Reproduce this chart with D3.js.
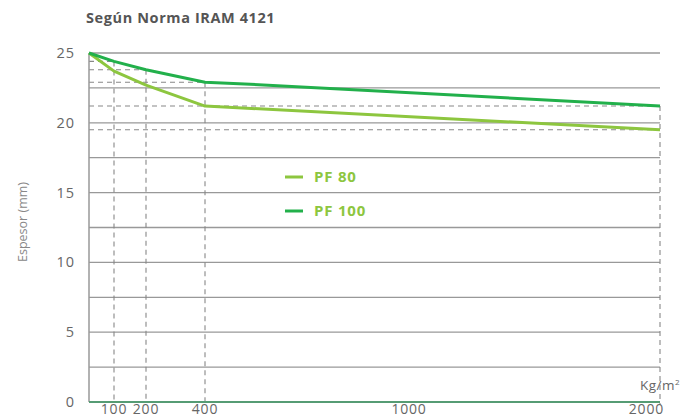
<!DOCTYPE html>
<html>
<head>
<meta charset="utf-8">
<script src="https://cdn.jsdelivr.net/npm/d3@7"></script>
<style>
  body { margin: 0; background: #fff; }
  svg { display: block; font-family: "Open Sans", Lato, sans-serif; }
</style>
</head>
<body>
<svg id="chart" width="681" height="418"></svg>
<script>
// values
var pf80Kg = [0, 100, 200, 400, 2000];
var pf80Mm = [25, 23.7, 22.7, 21.2, 19.5];
var pf100Kg = [0, 100, 200, 400, 500, 2000];
var pf100Mm = [25, 24.4, 23.8, 22.9, 22.8, 21.2];
var xTicks = [100, 200, 400, 1000, 2000];
var yTicks = [0, 5, 10, 15, 20, 25];
var gridVals = d3.range(2.5, 25.01, 2.5);
// reference marks: vertical at kg, horizontals at mm reaching to kg
var refKg = [100, 200, 400, 2000];
var refMm = [[24.4, 100], [23.8, 200], [22.9, 400], [21.2, 2000], [19.5, 2000]];
var series = [
  {name: "PF 80", kg: pf80Kg, mm: pf80Mm, color: "#8dc63f"},
  {name: "PF 100", kg: pf100Kg, mm: pf100Mm, color: "#22b04b"}
];

var svg = d3.select("#chart");

// x axis is not linear in the original, so piecewise
var x = d3.scaleLinear()
  .domain([0, 100, 200, 400, 1000, 2000])
  .range([89, 114, 146, 205, 409, 660]);
var y = d3.scaleLinear().domain([0, 25]).range([402, 53]);

svg.append("text")
  .attr("x", 86).attr("y", 23)
  .attr("fill", "#555").attr("font-size", 14.5).attr("font-weight", "bold")
  .attr("letter-spacing", 0.6)
  .text("Según Norma IRAM 4121");

// solid grid
svg.append("g").selectAll("line")
  .data(gridVals).enter().append("line")
  .attr("x1", x(0)).attr("x2", x(2000))
  .attr("y1", d => y(d)).attr("y2", d => y(d))
  .attr("stroke", "#999").attr("stroke-width", 1.3);

// dashed reference lines
var dash = svg.append("g")
  .attr("stroke", "#888").attr("stroke-width", 1.1).attr("stroke-dasharray", "5,4");
dash.selectAll(".h").data(refMm).enter().append("line")
  .attr("x1", x(0)).attr("x2", d => x(d[1]))
  .attr("y1", d => y(d[0])).attr("y2", d => y(d[0]));
dash.selectAll(".v").data(refKg).enter().append("line")
  .attr("x1", d => x(d)).attr("x2", d => x(d))
  .attr("y1", d => y(d3.max(series, s => {
    var i = s.kg.indexOf(d);
    return i < 0 ? 0 : s.mm[i];
  })))
  .attr("y2", d => d == 2000 ? y(0) + 3 : y(0));

// axes lines
svg.append("line")
  .attr("x1", x(0)).attr("x2", x(0)).attr("y1", y(25)).attr("y2", y(0))
  .attr("stroke", "#999").attr("stroke-width", 1.5);
svg.append("line")
  .attr("x1", x(0)).attr("x2", x(2000)).attr("y1", y(0)).attr("y2", y(0))
  .attr("stroke", "#569c74").attr("stroke-width", 2.2);

// tick labels
svg.append("g").selectAll("text")
  .data(yTicks).enter().append("text")
  .attr("x", 75).attr("y", d => y(d)).attr("dy", "0.35em")
  .attr("text-anchor", "end").attr("fill", "#666").attr("font-size", 14.5)
  .attr("letter-spacing", 1)
  .text(d => d);
svg.append("g").selectAll("text")
  .data(xTicks).enter().append("text")
  .attr("x", d => d == 2000 ? x(d) + 4 : x(d)).attr("y", 414)
  .attr("text-anchor", d => d == 2000 ? "end" : "middle")
  .attr("fill", "#666").attr("font-size", 14).attr("letter-spacing", 0.8)
  .text(d => d);

svg.append("text")
  .attr("x", 680).attr("y", 390).attr("text-anchor", "end")
  .attr("fill", "#666").attr("font-size", 13.5).attr("letter-spacing", 0.5)
  .html("Kg/m<tspan font-size='8' dy='-5'>2</tspan>");

svg.append("text")
  .attr("transform", "translate(27,222) rotate(-90)")
  .attr("text-anchor", "middle").attr("fill", "#888").attr("font-size", 12.5)
  .text("Espesor (mm)");

// data lines
var line = d3.line().x(d => x(d[0])).y(d => y(d[1]));
svg.append("g").selectAll("path")
  .data(series).enter().append("path")
  .attr("d", s => line(d3.zip(s.kg, s.mm)))
  .attr("fill", "none").attr("stroke", s => s.color)
  .attr("stroke-width", 3).attr("stroke-linejoin", "round");

// legend
var leg = svg.append("g").selectAll("g")
  .data(series).enter().append("g")
  .attr("transform", (d, i) => "translate(285," + (177 + i * 34) + ")");
leg.append("line")
  .attr("x1", 0).attr("x2", 18)
  .attr("stroke", d => d.color).attr("stroke-width", 3);
leg.append("text")
  .attr("x", 29).attr("dy", "0.35em")
  .attr("fill", "#8dc63f").attr("font-size", 15).attr("font-weight", "bold")
  .attr("letter-spacing", 0.8)
  .text(d => d.name);
</script>
</body>
</html>
